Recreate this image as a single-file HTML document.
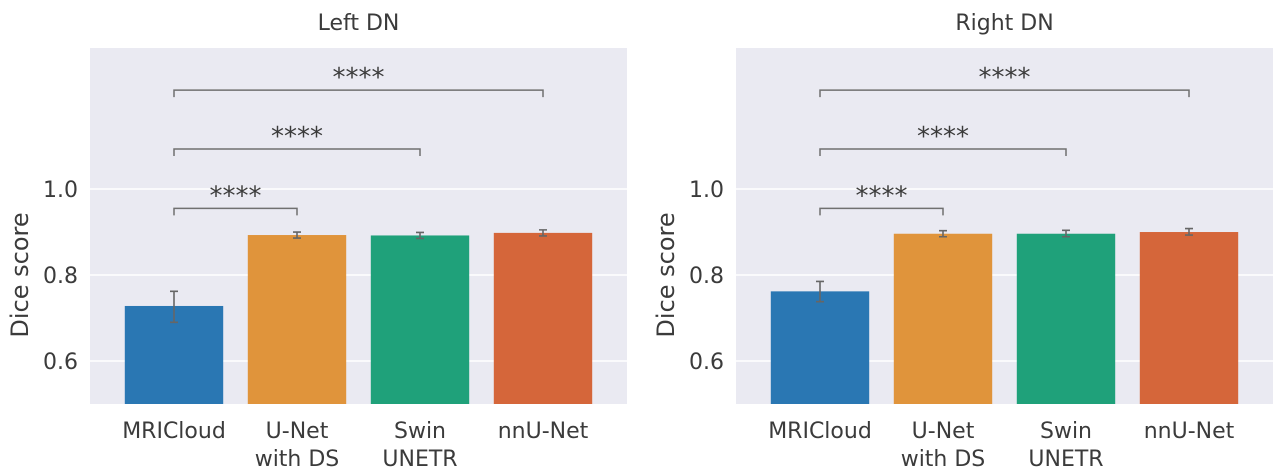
<!DOCTYPE html>
<html><head><meta charset="utf-8"><style>
body{margin:0;background:#fff;}
svg{display:block;font-family:"DejaVu Sans","Liberation Sans",sans-serif;}
</style></head><body>
<svg id="chart" width="1280" height="471"></svg>
<script>
const categories = ["MRICloud", "U-Net\nwith DS", "Swin\nUNETR", "nnU-Net"];
const panelTitles = ["Left DN", "Right DN"];
const leftValues = [0.728, 0.893, 0.892, 0.898];
const leftErrLow = [0.69, 0.886, 0.885, 0.891];
const leftErrHigh = [0.762, 0.900, 0.899, 0.905];
const rightValues = [0.762, 0.896, 0.896, 0.900];
const rightErrLow = [0.738, 0.889, 0.889, 0.893];
const rightErrHigh = [0.785, 0.903, 0.904, 0.908];
const yTicks = [0.6, 0.8, 1.0];
const yTickLabels = ["0.6", "0.8", "1.0"];
const sigPairs = [[0, 1], [0, 2], [0, 3]];
const sigLabels = ["****", "****", "****"];
const sigLevels = [0.955, 1.093, 1.23];
const colors = ["#2a77b3", "#e0943b", "#1fa17a", "#d5663a"];

const NS = "http://www.w3.org/2000/svg";
const svg = document.getElementById("chart");
function mk(tag, attrs, parent) {
  const e = document.createElementNS(NS, tag);
  for (const k in attrs) e.setAttribute(k, attrs[k]);
  (parent || svg).appendChild(e);
  return e;
}
const yMin = 0.5, yMax = 1.328, plotTop = 48, plotBottom = 404;
function yScale(v) { return plotBottom - (v - yMin) / (yMax - yMin) * (plotBottom - plotTop); }

function drawPanel(px, title, values, lo, hi, key) {
  const W = 537, step = 123, off = 84;
  const xScale = i => px + off + i * step;
  const g = mk("g", {});
  
  
  const bg = mk("rect", {x: px, y: plotTop, width: W, height: plotBottom - plotTop, fill: "#eaeaf2"}, g);
  
  
  yTicks.forEach((t, i) => {
    const gl = mk("line", {x1: px, x2: px + W, y1: yScale(t), y2: yScale(t), stroke: "#fff", "stroke-width": 1.5}, g);
    
    
    const tl = mk("text", {x: px - 12, y: yScale(t) + 8, "text-anchor": "end", "font-size": 22, fill: "#3b3b3b"}, g);
    tl.textContent = yTickLabels[i];
    
    
  });
  const yl = mk("text", {transform: `translate(${px - 62},${yScale(0.8)}) rotate(-90)`, "text-anchor": "middle", "font-size": 24, fill: "#3b3b3b"}, g);
  yl.textContent = "Dice score";
  
  
  const tt = mk("text", {x: px + W / 2, y: 30, "text-anchor": "middle", "font-size": 22, fill: "#3b3b3b"}, g);
  tt.textContent = title;
  
  
  values.forEach((v, i) => {
    const cx = xScale(i), bw = 0.8 * step;
    const b = mk("rect", {x: cx - bw / 2, y: yScale(v), width: bw, height: plotBottom - yScale(v), fill: colors[i]}, g);
    
    
    const e = mk("path", {d: `M${cx},${yScale(lo[i])}V${yScale(hi[i])}M${cx - 4},${yScale(lo[i])}H${cx + 4}M${cx - 4},${yScale(hi[i])}H${cx + 4}`, stroke: "#666", "stroke-width": 1.6, fill: "none"}, g);
    
    
    const lines = categories[i].split("\n");
    lines.forEach((ln, j) => {
      const t = mk("text", {x: cx, y: 438 + j * 28, "text-anchor": "middle", "font-size": 22, fill: "#3b3b3b"}, g);
      t.textContent = ln;
      
      
    });
  });
  sigPairs.forEach((p, k) => {
    const y = yScale(sigLevels[k]), x1 = xScale(p[0]), x2 = xScale(p[1]);
    const br = mk("path", {d: `M${x1},${y + 7}V${y}H${x2}V${y + 7}`, stroke: "#707070", "stroke-width": 1.5, fill: "none"}, g);
    
    
    const st = mk("text", {x: (x1 + x2) / 2, y: y - 4, "text-anchor": "middle", "font-size": 26, fill: "#3b3b3b"}, g);
    st.textContent = sigLabels[k];
    
    
  });
}
drawPanel(90, panelTitles[0], leftValues, leftErrLow, leftErrHigh, "left-dn");
drawPanel(736, panelTitles[1], rightValues, rightErrLow, rightErrHigh, "right-dn");
</script>
</body></html>
